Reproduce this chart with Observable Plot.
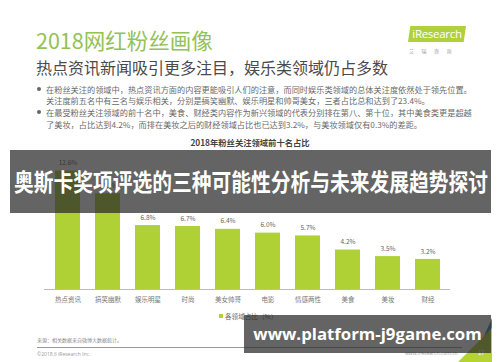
<!DOCTYPE html>
<html><head><meta charset="utf-8">
<script src="https://cdn.jsdelivr.net/npm/d3@7"></script>
<script src="https://cdn.jsdelivr.net/npm/@observablehq/plot@0.6"></script>
<style>
html,body{margin:0;padding:0;background:#fff;}
body{width:500px;height:362px;position:relative;overflow:hidden;font-family:"Noto Sans CJK SC","Noto Sans",sans-serif;}
.abs{position:absolute;white-space:nowrap;}
#title{left:36px;top:26px;font-size:21.5px;line-height:28px;color:#93c255;}
#subtitle{left:36px;top:57px;font-size:16px;line-height:20px;color:#4a4a4a;}
.bl{left:46px;font-size:8.2px;line-height:10px;color:#6a6a6a;}
.dot{left:37px;width:4px;height:4px;border-radius:50%;background:#666;}
#logo{left:408px;top:26px;width:58px;height:16px;background:#b2cf3c;clip-path:polygon(4% 0,100% 0,96% 100%,0 100%);color:#fff;font-family:"Open Sans",sans-serif;font-size:11.5px;line-height:16px;text-align:center;letter-spacing:-0.3px;}
#logosub{left:409px;top:47px;font-size:5px;color:#999;letter-spacing:7.5px;}
#ctitle{left:0;width:500px;top:136px;text-align:center;font-size:8.3px;font-weight:bold;color:#444;}
#chart{left:0;top:140px;}
#legend{left:219px;top:311px;font-size:6.6px;color:#666;line-height:10px;}
#legend span{display:inline-block;width:4px;height:4px;background:#b0d136;margin-right:2px;vertical-align:1px;}
#src{left:37px;top:336px;font-size:5px;color:#888;}
#hr{left:37px;top:347px;width:425px;height:0;border-top:0.8px solid #999;}
#copy{left:37px;top:351px;font-size:5px;color:#999;font-family:"Open Sans",sans-serif;}
#url2{left:405px;top:350px;font-size:5px;color:#999;font-family:"Open Sans",sans-serif;}
#tri{left:458px;top:328px;width:34px;height:34px;background:#b6d334;clip-path:polygon(100% 0,100% 100%,0 100%);}
#tri2{left:470px;top:318px;width:22px;height:30px;background:#3a8c93;clip-path:polygon(100% 0,100% 100%,40% 100%);}
#pg{left:478px;top:348px;font-size:6px;color:#fff;}
#band1{left:10px;top:150px;width:481px;height:63px;background:rgba(40,40,40,0.72);}
#band1 span{position:absolute;left:50%;top:14px;white-space:nowrap;color:#fff;font-weight:bold;font-size:23.5px;line-height:34px;transform:translateX(-50%) scaleX(0.84);transform-origin:center;}
#band2{left:244px;top:315px;width:247px;height:38px;background:rgba(40,40,40,0.72);}
#band2 div{position:absolute;left:0;width:247px;top:8px;text-align:center;color:#fff;font-weight:bold;font-size:16.8px;line-height:22px;font-family:"Open Sans",sans-serif;}
</style></head>
<body>
<div class="abs" id="title">2018网红粉丝画像</div>
<div class="abs" id="subtitle">热点资讯新闻吸引更多注目，娱乐类领域仍占多数</div>
<div class="abs dot" style="top:87px"></div>
<div class="abs bl" style="top:84px">在粉丝关注的领域中，热点资讯方面的内容更能吸引人们的注意，而同时娱乐类领域的总体关注度依然处于领先位置。</div>
<div class="abs bl" style="top:95px">关注度前五名中有三名与娱乐相关，分别是搞笑幽默、娱乐明星和帅哥美女，三者占比总和达到了23.4%。</div>
<div class="abs dot" style="top:110px"></div>
<div class="abs bl" style="top:107px">在最受粉丝关注领域的前十名中，美食、财经类内容作为新兴领域的代表分别排在第八、第十位，其中美食类更是超越</div>
<div class="abs bl" style="top:119px">了美妆，占比达到4.2%，而排在美妆之后的财经领域占比也已达到3.2%，与美妆领域仅有0.3%的差距。</div>
<div class="abs" id="logo">iResearch</div>
<div class="abs" id="logosub">艾瑞咨询</div>
<div class="abs" id="chart"></div>
<div class="abs" id="ctitle">2018年粉丝关注领域前十名占比</div>
<div class="abs" id="legend"><span></span>各领域占比（%）</div>
<div class="abs" id="src">来源：相关数据来自微博大数据统计。</div>
<div class="abs" id="hr"></div>
<div class="abs" id="copy">©2018.6 iResearch Inc.</div>
<div class="abs" id="url2">www.iresearch.com.cn</div>
<div class="abs" id="tri2"></div>
<div class="abs" id="tri"></div>
<div class="abs" id="pg">17</div>
<div class="abs" id="band1"><span>奥斯卡奖项评选的三种可能性分析与未来发展趋势探讨</span></div>
<div class="abs" id="band2"><div>www.platform-j9game.com</div></div>
<script>
const categories = ["热点资讯","搞笑幽默","娱乐明星","时尚","美女帅哥","电影","情感两性","美食","美妆","财经"];
const values = [12.6,10.2,6.8,6.7,6.4,6.0,5.7,4.2,3.5,3.2];
const labels = ["12.6%","10.2%","6.8%","6.7%","6.4%","6.0%","5.7%","4.2%","3.5%","3.2%"];
const data = categories.map((c,i)=>({cat:c, v:values[i], label:labels[i]}));
const chart = Plot.plot({
  width:500, height:170,
  marginLeft:44, marginRight:50, marginTop:17.4, marginBottom:21,
  style:{fontFamily:"'Noto Sans CJK SC', sans-serif", background:"transparent", color:"#777"},
  x:{domain:categories, paddingInner:0.38, paddingOuter:0.2, label:null, tickSize:0, tickPadding:8},
  y:{domain:[0,14], axis:null},
  marks:[
    Plot.barY(data,{x:"cat", y:"v", fill:"#b0d136"}),
    Plot.ruleY([0],{stroke:"#aaa", strokeWidth:0.8}),
    Plot.text(data,{x:"cat", y:"v", text:"label", dy:-8, fontSize:6.5, fill:"#666"})
  ]
});
chart.querySelectorAll('g[aria-label="x-axis tick label"] text, g[aria-label="x-axis"] text').forEach(t=>t.setAttribute("font-size","6.5"));
document.getElementById("chart").appendChild(chart);
</script>
</body></html>
